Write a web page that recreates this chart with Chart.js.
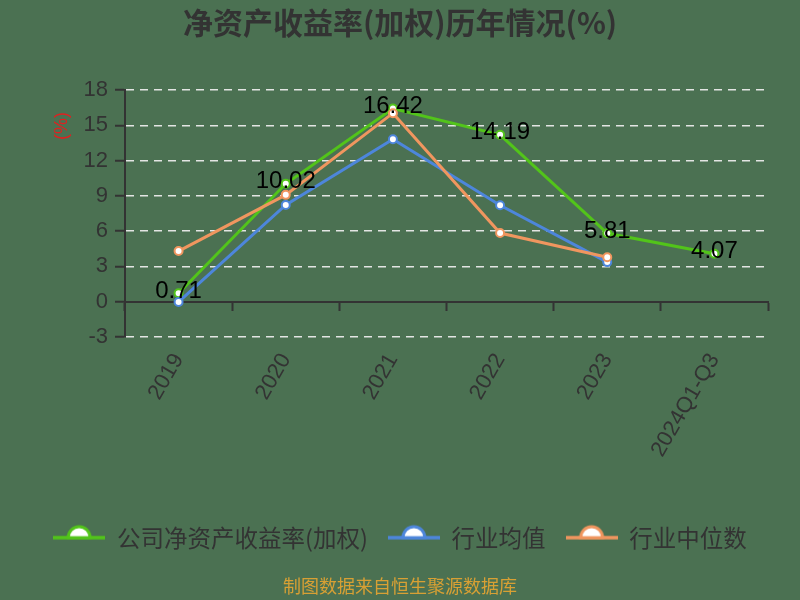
<!DOCTYPE html>
<html><head><meta charset="utf-8">
<script src="https://cdn.jsdelivr.net/npm/chart.js@4.4.1/dist/chart.umd.min.js"></script>
<style>html,body{margin:0;padding:0;background:#4b7152;overflow:hidden;} canvas{display:block;}</style>
</head><body>
<canvas id="c" width="800" height="600"></canvas>
<script>
const categories = ['2019', '2020', '2021', '2022', '2023', '2024Q1-Q3'];
const companyROE = [0.71, 10.02, 16.42, 14.19, 5.81, 4.07];
const industryMean = [-0.03, 8.22, 13.81, 8.2, 3.36, null];
const industryMedian = [4.3, 9.08, 16.03, 5.83, 3.78, null];
const yTicks = [-3, 0, 3, 6, 9, 12, 15, 18];
const seriesNames = ['公司净资产收益率(加权)', '行业均值', '行业中位数'];
const titleText = '净资产收益率(加权)历年情况(%)';
const sourceText = '制图数据来自恒生聚源数据库';
const unitText = '(%)';

const colors = ['#52c41a', '#4d86db', '#f0965f'];
const BG = '#4b7152';
const CJK = '"Noto Sans CJK SC", "Noto Sans", sans-serif';
const LAT = '"Liberation Sans", Arial, sans-serif';

function makeIcon(color) {
  const c = document.createElement('canvas');
  c.width = 52; c.height = 28;
  const g = c.getContext('2d');
  g.strokeStyle = color; g.lineWidth = 3.5;
  g.beginPath(); g.moveTo(0, 14); g.lineTo(52, 14); g.stroke();
  g.beginPath(); g.arc(26, 14, 11, Math.PI, 2 * Math.PI); g.closePath();
  g.fillStyle = '#ffffff'; g.fill();
  g.lineWidth = 3; g.stroke();
  return c;
}
const icons = colors.map(makeIcon);

const bgPlugin = {
  id: 'bg',
  beforeDraw(chart) {
    const ctx = chart.ctx;
    ctx.save(); ctx.fillStyle = BG; ctx.fillRect(0, 0, chart.width, chart.height); ctx.restore();
  }
};

const labelPlugin = {
  id: 'vlabels',
  afterDatasetsDraw(chart) {
    const ctx = chart.ctx;
    const meta = chart.getDatasetMeta(0);
    ctx.save();
    ctx.font = '24px ' + LAT;
    ctx.fillStyle = '#000000';
    ctx.textAlign = 'center';
    ctx.textBaseline = 'middle';
    meta.data.forEach((pt, i) => {
      const v = companyROE[i];
      if (v === null || v === undefined) return;
      ctx.fillText(String(v), pt.x, pt.y - 2);
    });
    ctx.restore();
  }
};

const unitPlugin = {
  id: 'unit',
  afterDraw(chart) {
    const ctx = chart.ctx;
    const a = chart.chartArea;
    ctx.save();
    ctx.translate(a.left - 63, a.top + 36);
    ctx.rotate(-Math.PI / 2);
    ctx.font = '18px ' + LAT;
    ctx.fillStyle = '#e02020';
    ctx.textAlign = 'center';
    ctx.textBaseline = 'middle';
    ctx.fillText(unitText, 0, 0);
    ctx.restore();
  }
};

const mk = (label, data, color, order) => ({
  label, data, order,
  borderColor: color,
  backgroundColor: color,
  borderWidth: 3,
  pointRadius: 4,
  pointHoverRadius: 4,
  pointBorderWidth: 2,
  pointBackgroundColor: '#ffffff',
  pointBorderColor: color,
  tension: 0,
  spanGaps: false,
  fill: false
});

new Chart(document.getElementById('c'), {
  type: 'line',
  data: {
    labels: categories,
    datasets: [
      mk(seriesNames[0], companyROE, colors[0], 3),
      mk(seriesNames[1], industryMean, colors[1], 2),
      mk(seriesNames[2], industryMedian, colors[2], 1)
    ]
  },
  options: {
    responsive: false,
    animation: false,
    devicePixelRatio: 1,
    layout: { padding: 0 },
    plugins: {
      tooltip: { enabled: false },
      title: {
        display: true,
        text: titleText,
        color: '#333333',
        font: { family: CJK, size: 30, weight: 'bold' },
        padding: { top: 5, bottom: 49 }
      },
      subtitle: {
        display: true,
        position: 'bottom',
        text: sourceText,
        color: '#d8a034',
        font: { family: CJK, size: 18 },
        padding: { top: 16, bottom: 3 }
      },
      legend: {
        display: true,
        position: 'bottom',
        labels: {
          usePointStyle: true,
          pointStyleWidth: 52,
          padding: 20,
          color: '#333333',
          font: { family: CJK, size: 23.5 },
          generateLabels(chart) {
            return chart.data.datasets.map((ds, i) => ({
              text: ds.label,
              fillStyle: colors[i],
              strokeStyle: colors[i],
              lineWidth: 0,
              pointStyle: icons[i],
              hidden: !chart.isDatasetVisible(i),
              datasetIndex: i,
              fontColor: '#333333'
            }));
          }
        }
      }
    },
    scales: {
      x: {
        type: 'category',
        position: 'bottom',
        offset: true,
        grid: { display: false, drawTicks: false },
        border: { display: false },
        ticks: {
          autoSkip: false,
          minRotation: 60,
          maxRotation: 60,
          padding: 12,
          color: '#333333',
          font: { family: LAT, size: 22 }
        },
        afterFit(scale) { scale.height = 169; }
      },
      x2: {
        type: 'category',
        axis: 'x',
        position: { y: 0 },
        offset: true,
        grid: {
          display: true,
          drawOnChartArea: false,
          drawTicks: true,
          tickLength: 8,
          tickColor: '#333333',
          tickWidth: 2,
          offset: true
        },
        border: { display: true, color: '#333333', width: 2 },
        ticks: { display: false }
      },
      y: {
        type: 'linear',
        position: 'left',
        min: -3,
        max: 18,
        afterBuildTicks(scale) { scale.ticks = yTicks.map(v => ({ value: v })); },
        grid: {
          color: (ctx) => (ctx.tick && ctx.tick.value === 0) ? 'rgba(0,0,0,0)' : 'rgba(235,235,235,0.95)',
          lineWidth: 1.5,
          tickLength: 10,
          tickColor: '#333333',
          tickWidth: 2
        },
        border: { display: true, color: '#333333', width: 2, dash: [8, 6] },
        ticks: {
          padding: 7,
          color: '#333333',
          font: { family: LAT, size: 22 }
        },
        afterFit(scale) { scale.width = 125; }
      },
      yRight: {
        type: 'linear',
        position: 'right',
        display: true,
        min: -3,
        max: 18,
        grid: { display: false, drawTicks: false },
        border: { display: false },
        ticks: { display: false },
        afterFit(scale) { scale.width = 32; }
      }
    }
  },
  plugins: [bgPlugin, labelPlugin, unitPlugin]
});
</script>
</body></html>
